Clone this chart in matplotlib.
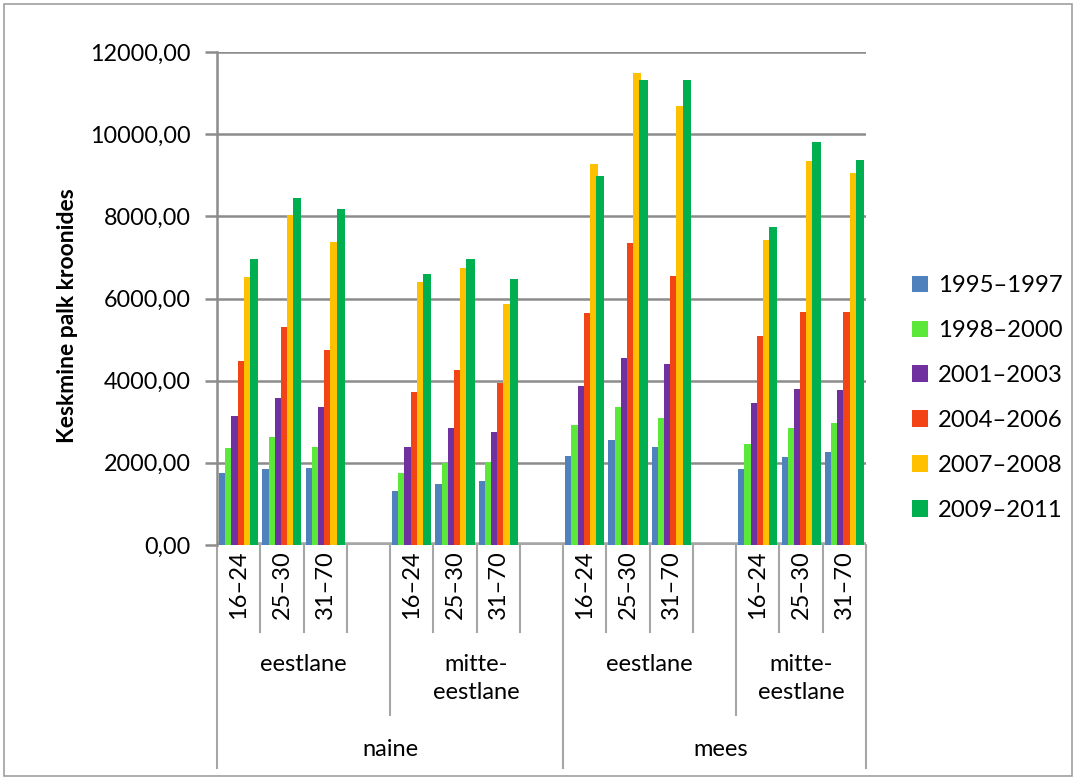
import numpy as np
import matplotlib
matplotlib.use('Agg')
import matplotlib.pyplot as plt
from matplotlib.patches import Rectangle
from matplotlib.lines import Line2D

plt.rcParams['font.family'] = ['Lato', 'DejaVu Sans']

# --- data ---
ages = ['16–24', '25–30', '31–70']
groups = ['eestlane', 'mitte-\neestlane', 'eestlane', 'mitte-\neestlane']
sexes = ['naine', 'mees']
periods = ['1995–1997', '1998–2000', '2001–2003', '2004–2006', '2007–2008', '2009–2011']
colors = ['#4F81BD', '#5BE83A', '#7030A0', '#F24415', '#FFC000', '#00B050']

# order: naine/eestlane, naine/mitte-eestlane, mees/eestlane, mees/mitte-eestlane; ages 16-24, 25-30, 31-70
p1995 = [1744, 1849, 1882, 1314, 1476, 1557, 2173, 2555, 2392, 1849, 2149, 2271]
p1998 = [2368, 2636, 2384, 1744, 1987, 2011, 2920, 3366, 3098, 2465, 2855, 2976]
p2001 = [3147, 3585, 3357, 2384, 2839, 2741, 3868, 4542, 4396, 3463, 3795, 3763]
p2004 = [4477, 5312, 4752, 3731, 4258, 3933, 5636, 7356, 6545, 5093, 5677, 5677]
p2007 = [6520, 8029, 7364, 6391, 6731, 5872, 9262, 11500, 10689, 7421, 9343, 9043]
p2009 = [6958, 8451, 8175, 6601, 6950, 6472, 8978, 11330, 11330, 7729, 9813, 9367]
series = [p1995, p1998, p2001, p2004, p2007, p2009]

# slot positions: 3 ages per group, one empty slot between groups
slots = np.array([g * 4 + a for g in range(4) for a in range(3)])
n_slots = 15

fig = plt.figure(figsize=(10.76, 7.78), dpi=100)
ax = fig.add_axes([217 / 1076, 1 - 545 / 778, (866 - 217) / 1076, (545 - 52) / 778])

gray = '#8C8C8C'
step = 0.143
for k, (vals, col) in enumerate(zip(series, colors)):
    ax.bar(slots + 0.5 + (k - 2.5) * step, vals, width=0.19, color=col,
           label=periods[k], zorder=3 + k, linewidth=0)

ax.axhline(0, color='#A6A6A6', lw=4, zorder=2)
ax.set_xlim(0, n_slots)
ax.set_ylim(0, 12000)
ax.set_yticks(np.arange(0, 12001, 2000))
ax.set_yticklabels([f'{v},00' for v in range(0, 12001, 2000)], fontsize=16.8)
ax.yaxis.grid(True, color=gray, lw=1.8, zorder=1)
ax.set_axisbelow(True)
ax.set_xticks([])
for s in ['top', 'right', 'bottom']:
    ax.spines[s].set_visible(False)
ax.spines['left'].set_color(gray)
ax.spines['left'].set_linewidth(1.8)
ax.tick_params(axis='y', length=9, width=1.8, color=gray, pad=10)

# hierarchical category axis
row1 = -87 / 493
row2 = -170 / 493
row3 = -223 / 493
trans = ax.get_xaxis_transform()
lc = '#A6A6A6'


def vline(x, y1):
    ax.add_line(Line2D([x, x], [0, y1], transform=trans, color=lc, lw=1.5, clip_on=False))


for x in [1, 2, 3, 5, 6, 7, 9, 10, 11, 13, 14]:
    vline(x, row1)
for x in [4, 12]:
    vline(x, row2)
for x in [0, 8, 15]:
    vline(x, row3)

for s in slots:
    ax.text(s + 0.5, -0.011, ages[s % 4], transform=trans, rotation=90,
            ha='center', va='top', fontsize=17)

group_spans = [(0, 4), (4, 8), (8, 12), (12, 15)]
for (a, b), name in zip(group_spans, groups):
    ax.text((a + b) / 2, -0.222, name, transform=trans, ha='center', va='top',
            fontsize=17, linespacing=1.4)

sex_pos = [4.0, 11.65]
for x, name in zip(sex_pos, sexes):
    ax.text(x, -0.414, name, transform=trans, ha='center',
            va='center', fontsize=17)

fig.text(68 / 1076, 1 - 316 / 778, 'Keskmine palk kroonides', rotation=90,
         ha='center', va='center', fontsize=16.5, fontweight='bold')

fig.legend(loc='center left', bbox_to_anchor=(912 / 1076, 1 - 398 / 778),
           frameon=False, fontsize=17.2, handlelength=0.68, handleheight=0.68,
           handletextpad=0.4, labelspacing=1.0, borderpad=0, borderaxespad=0)

fig.patches.append(Rectangle((0.004, 0.003), 0.992, 0.992, transform=fig.transFigure,
                             fill=False, edgecolor='#A0A0A0', lw=1.2))

fig.savefig('out.png', dpi=100)
